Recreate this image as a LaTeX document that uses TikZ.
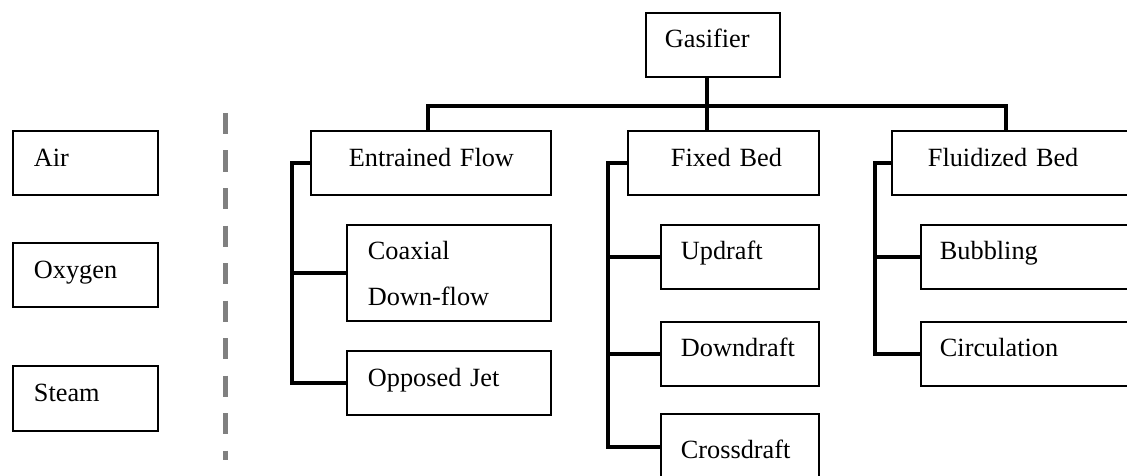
\documentclass[tikz,border=0pt]{standalone}
\usepackage{fontspec}
\setmainfont{Liberation Serif}

\tikzset{
  gfbox/.style 2 args={draw, line width=1.8pt, rectangle, anchor=north west,
    inner xsep=0pt, inner ysep=0pt, text width=#1, align=left,
    execute at begin node={\leftskip=#2\relax},
    text height=36pt, text depth=28pt},
  gflink/.style={line width=4pt},
  gfsep/.style={line width=5pt, draw=gray, dash pattern=on 21pt off 16.5pt}
}

\begin{document}
\begin{tikzpicture}[x=1pt, y=-1pt, font=\fontsize{26.3pt}{46pt}\selectfont]
\useasboundingbox (0,0) rectangle (1127,476);
\clip (0,0) rectangle (1127,476);

% agents
\node[gfbox={145pt}{21pt}] (air) at (12,130) {Air};
\node[gfbox={145pt}{21pt}] (oxygen) at (12,242) {Oxygen};
\node[gfbox={145pt}{21pt}, text depth=29pt] (steam) at (12,365) {Steam};

\coordinate (septop) at (225,113);
\coordinate (sepbot) at (225,460);
\draw[gfsep] (septop) -- (sepbot);

% gasifier types
\node[gfbox={134pt}{19pt}, text height=35pt, text depth=29pt] (gasifier) at (645,12) {Gasifier};
\node[gfbox={240pt}{38pt}] (entrained) at (310,130) {Entrained Flow};
\node[gfbox={191pt}{43pt}] (fixed) at (627,130) {Fixed Bed};
\node[gfbox={269pt}{36pt}] (fluidized) at (891,130) {Fluidized Bed};

\node[gfbox={204pt}{21pt}, text height=35pt, text depth=61pt] (coaxial) at (346,224) {Coaxial\\Down-flow};
\node[gfbox={204pt}{21pt}] (opposed) at (346,350) {Opposed Jet};

\node[gfbox={158pt}{20pt}, text height=35pt, text depth=29pt] (updraft) at (660,224) {Updraft};
\node[gfbox={158pt}{20pt}, text height=35pt, text depth=29pt] (downdraft) at (660,321) {Downdraft};
\node[gfbox={158pt}{20pt}, text height=45pt, text depth=22pt] (crossdraft) at (660,413) {Crossdraft};

\node[gfbox={240pt}{19pt}, text height=35pt, text depth=29pt] (bubbling) at (920,224) {Bubbling};
\node[gfbox={240pt}{19pt}, text height=35pt, text depth=29pt] (circulation) at (920,321) {Circulation};

% tree
\coordinate (hub) at (707,106);
\coordinate (busL) at (428,106);
\coordinate (busR) at (1006,106);
\draw[gflink] (gasifier.south -| hub) -- (fixed.north -| hub);
\draw[gflink] (entrained.north -| busL) -- (busL) -- (busR) -- (fluidized.north -| busR);

\coordinate (efspine) at (292,0);
\coordinate (fbspine) at (608,0);
\coordinate (fzspine) at (875,0);

\draw[gflink] (entrained.west) -- (entrained.west -| efspine) |- (opposed.west);
\draw[gflink] (coaxial.west -| efspine) -- (coaxial.west);

\draw[gflink] (fixed.west) -- (fixed.west -| fbspine) |- (crossdraft.west);
\draw[gflink] (updraft.west -| fbspine) -- (updraft.west);
\draw[gflink] (downdraft.west -| fbspine) -- (downdraft.west);

\draw[gflink] (fluidized.west) -- (fluidized.west -| fzspine) |- (circulation.west);
\draw[gflink] (bubbling.west -| fzspine) -- (bubbling.west);
\end{tikzpicture}
\end{document}
